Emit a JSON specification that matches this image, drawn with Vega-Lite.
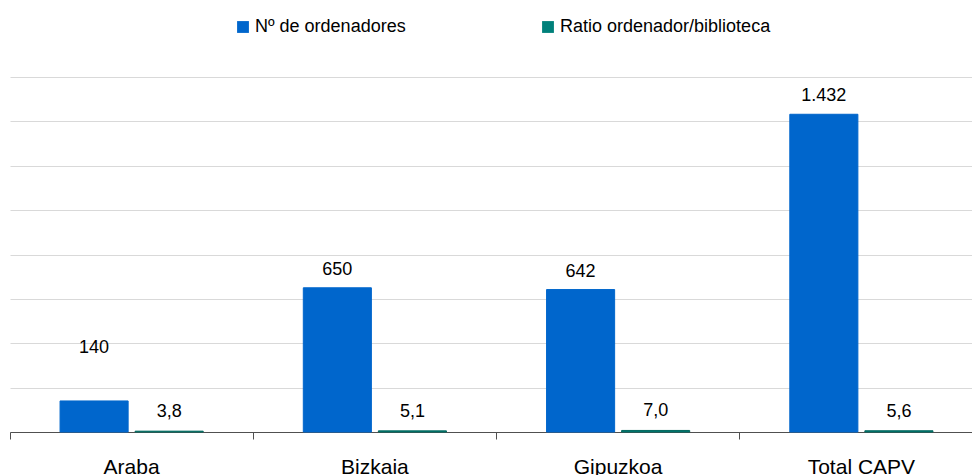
{
  "$schema": "https://vega.github.io/schema/vega-lite/v6.json",
  "autosize": "none",
  "width": 973,
  "height": 355,
  "padding": {"left": 10, "top": 77, "right": 0, "bottom": 43},
  "background": "white",
  "config": {
    "locale": {"number": {"decimal": ",", "thousands": ".", "grouping": [3], "currency": ["", " €"]}},
    "font": "Liberation Sans",
    "view": {"stroke": null}
  },
  "data": {
    "values": [
      {"region": "Araba", "serie": "Nº de ordenadores", "valor": 140},
      {"region": "Araba", "serie": "Ratio ordenador/biblioteca", "valor": 3.8},
      {"region": "Bizkaia", "serie": "Nº de ordenadores", "valor": 650},
      {"region": "Bizkaia", "serie": "Ratio ordenador/biblioteca", "valor": 5.1},
      {"region": "Gipuzkoa", "serie": "Nº de ordenadores", "valor": 642},
      {"region": "Gipuzkoa", "serie": "Ratio ordenador/biblioteca", "valor": 7.0},
      {"region": "Total CAPV", "serie": "Nº de ordenadores", "valor": 1432},
      {"region": "Total CAPV", "serie": "Ratio ordenador/biblioteca", "valor": 5.6}
    ]
  },
  "encoding": {
    "x": {
      "field": "region", "type": "nominal", "sort": null,
      "scale": {"paddingInner": 0, "paddingOuter": 0},
      "axis": {
        "title": null, "bandPosition": 0, "labelAngle": 0,
        "labelFontSize": 21, "labelColor": "#000000", "labelPadding": 17,
        "labelOverlap": false, "labelBound": false, "labelFlush": false,
        "tickSize": 7, "tickColor": "#505050", "domainColor": "#505050", "grid": false
      }
    },
    "xOffset": {
      "field": "serie", "type": "nominal",
      "sort": ["Nº de ordenadores", "Ratio ordenador/biblioteca"],
      "scale": {"paddingInner": 0.093, "paddingOuter": 0.667}
    },
    "y": {
      "field": "valor", "type": "quantitative",
      "scale": {"domain": [0, 1600], "nice": false},
      "axis": {
        "title": null, "labels": false, "ticks": false, "domain": false,
        "grid": true, "gridColor": "#d9d9d9", "gridWidth": 1,
        "values": [0, 200, 400, 600, 800, 1000, 1200, 1400, 1600]
      }
    }
  },
  "layer": [
    {
      "mark": {"type": "bar", "strokeWidth": 1},
      "encoding": {
        "color": {
          "field": "serie", "type": "nominal",
          "scale": {"domain": ["Nº de ordenadores", "Ratio ordenador/biblioteca"], "range": ["#0066cc", "#00807a"]},
          "legend": {
            "title": null, "orient": "none", "direction": "horizontal",
            "legendX": 224, "legendY": -59,
            "symbolType": "square", "symbolSize": 140, "symbolStrokeWidth": 0,
            "labelFontSize": 18, "labelColor": "#000000", "labelOffset": 3,
            "columnPadding": 133, "labelLimit": 400
          }
        },
        "stroke": {
          "field": "serie", "type": "nominal",
          "scale": {"domain": ["Nº de ordenadores", "Ratio ordenador/biblioteca"], "range": ["#0066cc", "#00665c"]},
          "legend": null
        }
      }
    },
    {
      "transform": [{"filter": "datum.serie === 'Nº de ordenadores' && datum.region !== 'Araba'"}],
      "mark": {"type": "text", "baseline": "alphabetic", "dy": -13, "fontSize": 18, "color": "#000000"},
      "encoding": {"text": {"field": "valor", "type": "quantitative", "format": ",.0f"}}
    },
    {
      "transform": [{"filter": "datum.serie === 'Nº de ordenadores' && datum.region === 'Araba'"}],
      "mark": {"type": "text", "baseline": "alphabetic", "dy": -48, "fontSize": 18, "color": "#000000"},
      "encoding": {"text": {"field": "valor", "type": "quantitative", "format": ",.0f"}}
    },
    {
      "transform": [{"filter": "datum.serie === 'Ratio ordenador/biblioteca'"}],
      "mark": {"type": "text", "baseline": "alphabetic", "dy": -14, "fontSize": 18, "color": "#000000"},
      "encoding": {"text": {"field": "valor", "type": "quantitative", "format": ".1f"}}
    }
  ]
}
